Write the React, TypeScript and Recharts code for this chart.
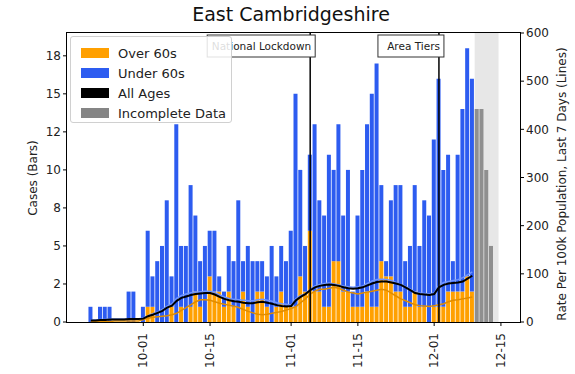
import {
  ComposedChart, Bar, Line, XAxis, YAxis, ReferenceLine, ReferenceArea,
} from 'recharts'

// days are counted from 10-01; first row is 09-20
const FIRST_DAY = -11

const over60Cases = [
  0, 0, 0, 0, 0, 0, 0, 0, 0, 0, 0,
  0, 1, 1, 0, 0, 0, 1, 0, 1, 0,
  1, 2, 1, 0, 3, 2, 2, 1, 2, 1,
  0, 2, 1, 0, 2, 2, 1, 0, 1, 2,
  1, 1, 1, 3, 2, 6, 2, 2, 1, 1,
  4, 4, 2, 2, 1, 1, 1, 2, 1, 1,
  4, 3, 3, 2, 2, 1, 1, 2, 1, 1,
  0, 1, 1, 1, 2, 2, 2, 2, 3, 2,
  0, 0, 0, 0,
]

const under60Cases = [
  1, 0, 1, 1, 1, 0, 0, 0, 2, 2, 0,
  1, 5, 2, 4, 5, 8, 2, 13, 4, 5,
  8, 5, 3, 5, 3, 4, 1, 1, 3, 3,
  8, 2, 4, 4, 2, 2, 2, 5, 2, 3,
  3, 5, 14, 7, 3, 5, 11, 6, 6, 10,
  6, 9, 5, 8, 1, 6, 9, 11, 14, 16,
  5, 1, 5, 7, 7, 3, 4, 7, 4, 7,
  7, 11, 15, 9, 9, 2, 9, 12, 15, 14,
  0, 0, 0, 0,
]

const incompleteCases = [
  0, 0, 0, 0, 0, 0, 0, 0, 0, 0, 0,
  0, 0, 0, 0, 0, 0, 0, 0, 0, 0,
  0, 0, 0, 0, 0, 0, 0, 0, 0, 0,
  0, 0, 0, 0, 0, 0, 0, 0, 0, 0,
  0, 0, 0, 0, 0, 0, 0, 0, 0, 0,
  0, 0, 0, 0, 0, 0, 0, 0, 0, 0,
  0, 0, 0, 0, 0, 0, 0, 0, 0, 0,
  0, 0, 0, 0, 0, 0, 0, 0, 0, 0,
  14, 14, 10, 5,
]

const allAgesRate = [
  3, 3, 4, 4, 5, 5, 5, 5, 6, 6, 6,
  7, 12, 15, 19, 23, 30, 34, 44, 50, 53,
  56, 58, 59, 60, 60, 57, 52, 48, 45, 43,
  42, 40, 39, 39, 41, 42, 40, 38, 35, 33,
  32, 33, 45, 52, 58, 66, 72, 75, 77, 78,
  77, 75, 72, 70, 69, 70, 72, 76, 80, 83,
  84, 84, 82, 80, 77, 72, 66, 60, 58, 57,
  56, 58, 72, 77, 80, 81, 82, 84, 90, 96,
]

const over60Rate = [
  1, 1, 1, 1, 1, 2, 2, 2, 2, 2, 2,
  5, 8, 10, 11, 12, 13, 15, 18, 24, 30,
  36, 42, 46, 46, 45, 42, 39, 37, 35, 33,
  30, 26, 22, 19, 16, 15, 16, 18, 20, 22,
  25, 28, 32, 40, 48, 58, 64, 68, 68, 70,
  72, 70, 66, 62, 60, 58, 60, 62, 64, 66,
  68, 66, 60, 54, 48, 44, 40, 36, 34, 33,
  32, 34, 36, 38, 42, 45, 46, 48, 50, 52,
]

const under60Rate = [
  4, 4, 5, 5, 6, 6, 6, 6, 7, 7, 7,
  8, 13, 17, 21, 26, 33, 38, 49, 55, 58,
  61, 62, 63, 64, 64, 61, 56, 52, 49, 47,
  46, 45, 44, 44, 46, 47, 45, 43, 40, 38,
  37, 35, 48, 55, 58, 68, 75, 78, 80, 81,
  79, 77, 75, 73, 72, 73, 75, 80, 85, 88,
  89, 88, 86, 82, 78, 74, 68, 62, 60, 59,
  58, 60, 76, 82, 84, 86, 88, 92, 98, 104,
]

const dateTicks = [0, 14, 31, 45, 61, 75]
const dateTickLabels = ['10-01', '10-15', '11-01', '11-15', '12-01', '12-15']
const caseTicks = [0, 2.5, 5, 7.5, 10, 12.5, 15, 17.5]
const caseTickLabels = ['0', '2', '5', '8', '10', '12', '15', '18']
const rateTicks = [0, 100, 200, 300, 400, 500, 600]

const events = [
  { day: 35, label: 'National Lockdown' },
  { day: 62, label: 'Area Tiers' },
]
const incompleteFrom = 69.5
const incompleteTo = 74.5

const legendItems = [
  { key: 'over', label: 'Over 60s' },
  { key: 'under', label: 'Under 60s' },
  { key: 'all', label: 'All Ages' },
  { key: 'incomplete', label: 'Incomplete Data' },
]

const COLORS: Record<string, string> = {
  over: '#ffa000',
  under: '#2d5cf0',
  all: '#000000',
  incomplete: '#858585',
}
const FONT = '"DejaVu Sans", sans-serif'
const TEXT = '#222'

const rows = over60Cases.map((v, i) => ({
  day: FIRST_DAY + i,
  over60: v,
  under60: under60Cases[i],
  incomplete: incompleteCases[i] || null,
  allRate: allAgesRate[i] ?? null,
  overRate: over60Rate[i] ?? null,
  underRate: under60Rate[i] ?? null,
}))

function DateTick({ x, y, payload }: any) {
  const idx = dateTicks.indexOf(payload.value)
  return (
    <g transform={`translate(${x},${y})`}>
      <text transform="rotate(-90)" x={-5} y={4} textAnchor="end"
        fontSize={12} fill={TEXT} fontFamily={FONT}>
        {dateTickLabels[idx]}
      </text>
    </g>
  )
}

function EventLabel({ viewBox, text }: any) {
  const lx = viewBox.x
  const w = text.length * 6 + 6
  return (
    <g>
      <rect x={lx + 5 - w} y={viewBox.y + 2} width={w} height={22}
        fill="#fff" stroke="#333" strokeWidth={1} />
      <text x={lx + 1} y={viewBox.y + 17} textAnchor="end"
        fontSize={10.5} fill={TEXT} fontFamily={FONT}>{text}</text>
    </g>
  )
}

export default function App() {
  return (
    <div style={{ position: 'absolute', left: 0, top: 0, width: 575, height: 374,
      background: '#fff', fontFamily: FONT }}>
      <div style={{ position: 'absolute', left: 0, width: 582, top: 3, textAlign: 'center',
        fontSize: 19, color: '#111' }}>
        East Cambridgeshire
      </div>
      <ComposedChart width={575} height={374} data={rows}
        margin={{ top: 33, right: 0, bottom: 0, left: 7 }} barGap={0}>
        <XAxis dataKey="day" type="number" domain={[-16, 79]} ticks={dateTicks}
          height={52} axisLine={false} tickSize={4} tickLine={{ stroke: '#000' }}
          tick={<DateTick />} interval={0} />
        <YAxis yAxisId="cases" domain={[0, 19]} ticks={caseTicks} width={60}
          axisLine={false} tickSize={4} tickLine={{ stroke: '#000' }}
          tickFormatter={(v: number) => caseTickLabels[caseTicks.indexOf(v)]}
          tick={{ fill: TEXT, fontSize: 12, fontFamily: FONT }} />
        <YAxis yAxisId="rate" orientation="right" domain={[0, 600]} ticks={rateTicks}
          width={55} axisLine={false} tickSize={4} tickLine={{ stroke: '#000' }}
          tick={{ fill: TEXT, fontSize: 12, fontFamily: FONT, textAnchor: 'start' }} />
        <ReferenceArea yAxisId="cases" x1={incompleteFrom} x2={incompleteTo} y1={0} y2={19}
          fill="#cfcfcf" fillOpacity={0.5} stroke="none" />
        <Bar yAxisId="cases" dataKey="over60" stackId="c" fill={COLORS.over}
          barSize={4} isAnimationActive={false} />
        <Bar yAxisId="cases" dataKey="under60" stackId="c" fill={COLORS.under}
          barSize={4} isAnimationActive={false} />
        <Bar yAxisId="cases" dataKey="incomplete" stackId="c" fill={COLORS.incomplete}
          fillOpacity={0.9} barSize={4} isAnimationActive={false} />
        <Line yAxisId="rate" dataKey="underRate" stroke="#6f95ff" strokeWidth={1.5}
          dot={false} isAnimationActive={false} connectNulls={false} />
        <Line yAxisId="rate" dataKey="overRate" stroke="#e08c00" strokeWidth={1.5}
          dot={false} isAnimationActive={false} connectNulls={false} />
        <Line yAxisId="rate" dataKey="allRate" stroke={COLORS.all} strokeWidth={2}
          dot={false} isAnimationActive={false} connectNulls={false} />
        {events.map((e) => (
          <ReferenceLine key={e.label} yAxisId="cases" x={e.day} stroke="#000"
            strokeWidth={1.5} label={<EventLabel text={e.label} />} />
        ))}
      </ComposedChart>
      {/* frame of the plot area */}
      <div style={{ position: 'absolute', left: 66, top: 32, width: 453, height: 289,
        border: '1px solid #000', pointerEvents: 'none' }} />
      {/* legend */}
      <div style={{ position: 'absolute', left: 70, top: 36, width: 162, height: 87,
        background: 'rgba(255,255,255,0.85)', border: '1px solid #d0d0d0', borderRadius: 3,
        boxSizing: 'border-box', paddingTop: 6 }}>
        {legendItems.map((it) => (
          <div key={it.key} style={{ display: 'flex', alignItems: 'center', height: 20 }}>
            <span style={{ display: 'inline-block', marginLeft: 10, width: 28, height: 10,
              background: COLORS[it.key] }} />
            <span style={{ marginLeft: 9, fontSize: 13, color: TEXT }}>{it.label}</span>
          </div>
        ))}
      </div>
      {/* axis titles */}
      <div style={{ position: 'absolute', left: 33, top: 178, fontSize: 12, color: TEXT,
        whiteSpace: 'nowrap', transform: 'translate(-50%, -50%) rotate(-90deg)' }}>
        Cases (Bars)
      </div>
      <div style={{ position: 'absolute', left: 562, top: 184, fontSize: 12, color: TEXT,
        whiteSpace: 'nowrap', transform: 'translate(-50%, -50%) rotate(-90deg)' }}>
        Rate Per 100k Population, Last 7 Days (Lines)
      </div>
    </div>
  )
}
